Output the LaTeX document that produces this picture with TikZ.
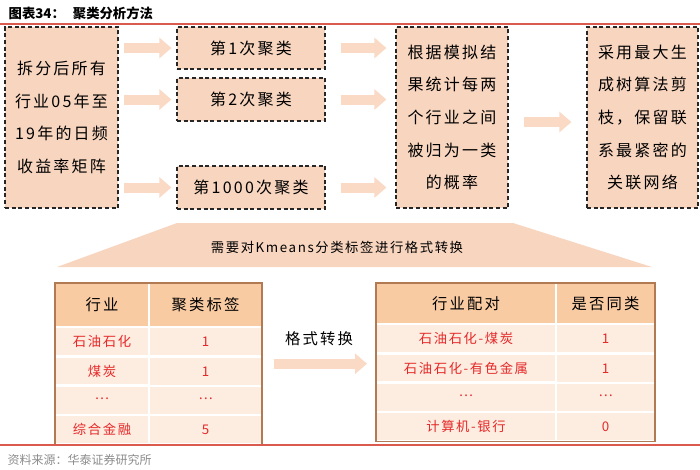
\documentclass[tikz,border=0pt]{standalone}
\usepackage{fontspec}
\setmainfont{Noto Sans CJK SC}
\newfontfamily\wide[LetterSpace=14]{Noto Sans CJK SC}
\newfontfamily\midwide[LetterSpace=12]{Noto Sans CJK SC}
\usetikzlibrary{matrix,arrows.meta,positioning}

\definecolor{boxfill}{HTML}{F8D5BF}
\definecolor{arrowfill}{HTML}{FAD9C5}
\definecolor{hdrfill}{HTML}{F9CBA3}
\definecolor{rowfill}{HTML}{FDECE0}
\definecolor{tblline}{HTML}{B27A52}
\definecolor{redtext}{HTML}{E52A2A}
\definecolor{rulered}{HTML}{DA5A4E}

\newcommand{\middots}{\raisebox{0.28em}{…}}

\tikzset{
  box/.style={draw=black!85, fill=boxfill, dash pattern=on 3pt off 2pt,
    line width=0.9pt, inner sep=0pt, align=center,
    font=\fontsize{12}{24.5}\wide},
  fatarrow/.style={draw=arrowfill, line width=7.5pt,
    -{Triangle[length=9pt,width=15pt]}},
  tbl/.style={matrix of nodes, inner sep=0pt, outer sep=0pt,
    column sep=0pt, row sep=0pt, anchor=north west,
    nodes={draw=white, line width=0.8pt, fill=rowfill, outer sep=0pt,
      inner sep=0pt, text=redtext, minimum height=21pt,
      font=\fontsize{10}{12}\midwide},
    row 1/.style={nodes={fill=hdrfill, text=black,
      font=\fontsize{11.5}{13}\wide}}}
}

\begin{document}
\begin{tikzpicture}[x=0.75pt,y=-0.75pt]
  \useasboundingbox (0,0) rectangle (700,469);

  \node[anchor=west, font=\fontsize{10}{12}\selectfont\bfseries] (title) at (4,13)
    {图表34：\hspace{6pt}聚类分析方法};
  \draw[rulered, line width=1.5pt] (0,24) -- (700,24);

  % top row of steps
  \node[box, minimum width=84.75pt, minimum height=135.75pt] (split) at (61.5,117.5)
    {拆分后所有\\行业05年至\\19年的日频\\收益率矩阵};
  \node[box, minimum width=111pt, minimum height=31.5pt] (run1) at (251,48) {第1次聚类};
  \node[box, minimum width=111pt, minimum height=32.25pt] (run2) at (251,99.5) {第2次聚类};
  \node[box, minimum width=111pt, minimum height=32.25pt] (run1000) at (251,187.5) {第1000次聚类};
  \node[box, minimum width=84pt, minimum height=135.75pt] (prob) at (452,117.5)
    {根据模拟结\\果统计每两\\个行业之间\\被归为一类\\的概率};
  \node[box, minimum width=83.25pt, minimum height=135.75pt] (mst) at (642.5,117.5)
    {采用最大生\\成树算法剪\\枝，保留联\\系最紧密的\\关联网络};

  \foreach \r in {run1,run2,run1000} {
    \draw[fatarrow, shorten <=3.75pt, shorten >=3.75pt] (split.east |- \r.west) -- (\r.west);
    \draw[fatarrow, shorten <=11.25pt, shorten >=6.75pt] (\r.east) -- (prob.west |- \r.east);
  }
  \draw[fatarrow, shorten <=11.25pt, shorten >=11.25pt]
    ([yshift=-3.4pt]prob.east) -- ([yshift=-3.4pt]mst.west);

  % banner
  \fill[boxfill] (177,223) -- (513,223) -- (652,267) -- (57,267) -- cycle;
  \node[font=\fontsize{10}{12}\midwide] (need) at (337,247.5) {需要对Kmeans分类标签进行格式转换};

  % tables
  \matrix (lbl) [tbl,
      column 1/.style={nodes={minimum width=69.75pt}},
      column 2/.style={nodes={minimum width=84pt}},
      row 1/.append style={nodes={minimum height=32.25pt}}] at (55,283) {
    行业 & 聚类标签 \\
    石油石化 & 1 \\
    煤炭 & 1 \\
    \middots & \middots \\
    综合金融 & 5 \\
  };
  \matrix (pairs) [tbl,
      column 1/.style={nodes={minimum width=134.25pt}},
      column 2/.style={nodes={minimum width=73.5pt}},
      row 1/.append style={nodes={minimum height=30pt}}] at (376,283) {
    行业配对 & 是否同类 \\
    石油石化-煤炭 & 1 \\
    石油石化-有色金属 & 1 \\
    \middots & \middots \\
    计算机-银行 & 0 \\
  };
  \draw[tblline, line width=1.1pt] (lbl.north west) rectangle (lbl.south east);
  \draw[tblline, line width=1.1pt] (pairs.north west) rectangle (pairs.south east);

  \draw[fatarrow, shorten <=9pt, shorten >=6.75pt] (lbl.east) -- (pairs.west |- lbl.east)
    node[midway, yshift=18.75pt, font=\fontsize{11.5}{13}\wide] (fmt) {格式转换};

  \draw[rulered, line width=1pt] (0,445) -- (700,445);
  \node[anchor=west, text=black!45, font=\fontsize{9}{11}\selectfont] (footer) at (3,460)
    {资料来源：华泰证券研究所};
\end{tikzpicture}
\end{document}
